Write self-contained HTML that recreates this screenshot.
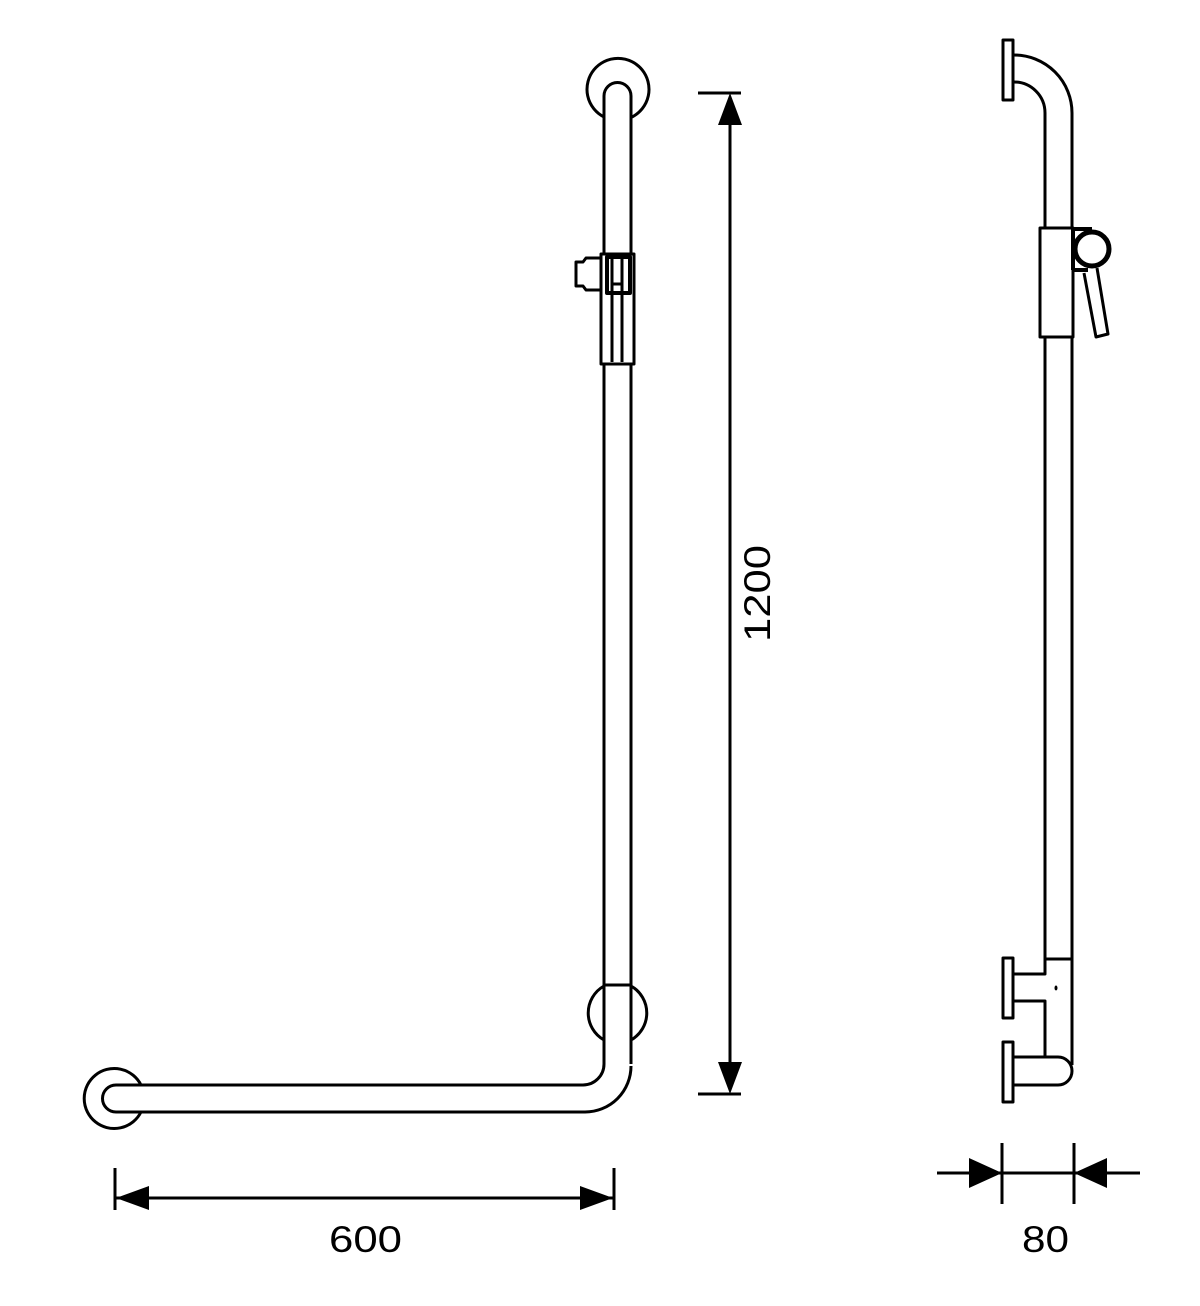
<!DOCTYPE html>
<html><head><meta charset="utf-8"><style>
html,body{margin:0;padding:0;background:#fff;}
svg{display:block;}
text{font-family:"Liberation Sans",sans-serif;fill:#000;}
</style></head><body>
<svg width="1200" height="1306" viewBox="0 0 1200 1306" xmlns="http://www.w3.org/2000/svg">
<g fill="none" stroke="#000" stroke-width="3" stroke-linejoin="round">
<!-- Left view: top rosette -->
<path d="M604 117 A31 31 0 1 1 632 117"/>
<path d="M604 254 L604 96 A13.5 13.5 0 0 1 631 96 L631 254"/>
<!-- slider -->
<rect x="601" y="254" width="33" height="110"/>
<line x1="612" y1="256" x2="612" y2="362"/>
<line x1="622" y1="256" x2="622" y2="362"/>
<rect x="607" y="257" width="23" height="36" stroke-width="4"/>
<line x1="612" y1="284" x2="622" y2="284"/>
<path d="M601 258 L586 258 L583 262 L576 262 L576 286 L583 286 L586 290 L601 290"/>
<!-- lower tube -->
<line x1="604" y1="364" x2="604" y2="1064"/>
<line x1="631" y1="364" x2="631" y2="1064"/>
<line x1="604" y1="985" x2="631" y2="985"/>
<path d="M604 986 A31 31 0 0 0 604 1040"/>
<path d="M631 986 A31 31 0 0 1 631 1040"/>
<path d="M604 1064 A21 21 0 0 1 583 1085 L116 1085 A13.5 13.5 0 0 0 116 1112 L585 1112 A46 46 0 0 0 631 1066"/>
<!-- left rosette -->
<path d="M141 1085 A30 30 0 1 0 141 1112"/>
<!-- vertical dimension -->
<line x1="730" y1="120" x2="730" y2="1066"/>
<line x1="698" y1="93" x2="741" y2="93"/>
<line x1="698" y1="1094" x2="741" y2="1094"/>
<!-- bottom dimension -->
<line x1="115" y1="1198" x2="614" y2="1198"/>
<line x1="115" y1="1168" x2="115" y2="1210"/>
<line x1="614" y1="1168" x2="614" y2="1210"/>
<!-- Right view -->
<rect x="1003" y="40" width="10" height="60"/>
<path d="M1013 55 L1014 55 A58 58 0 0 1 1072 113 L1072 228"/>
<path d="M1013 82 L1014 82 A31 31 0 0 1 1045 113 L1045 228"/>
<rect x="1040" y="228" width="33" height="109"/>
<path d="M1073 270 L1073 229 L1092 229 M1073 270 L1088 270" stroke-width="4"/>
<circle cx="1092" cy="249" r="17" stroke-width="5"/>
<path d="M1084 273 L1096 337 L1108 334 L1097 268"/>
<line x1="1045" y1="337" x2="1045" y2="959"/>
<line x1="1072" y1="337" x2="1072" y2="1065"/>
<line x1="1045" y1="959" x2="1072" y2="959"/>
<rect x="1003" y="958" width="10" height="60"/>
<path d="M1013 974 L1045 974 L1045 959"/>
<path d="M1013 1001 L1045 1001 L1045 1057"/>
<rect x="1003" y="1042" width="10" height="60"/>
<path d="M1013 1057 L1058 1057 A14 14 0 0 1 1058 1085 L1013 1085"/>
<line x1="937" y1="1173" x2="1140" y2="1173"/>
<line x1="1002" y1="1143" x2="1002" y2="1204"/>
<line x1="1074" y1="1143" x2="1074" y2="1204"/>
</g>
<g fill="#000" stroke="none">
<polygon points="730,93 718,125 742,125"/>
<polygon points="730,1094 718,1062 742,1062"/>
<polygon points="116,1198 149,1186 149,1210"/>
<polygon points="613,1198 580,1186 580,1210"/>
<polygon points="1002,1173 969,1158 969,1188"/>
<polygon points="1074,1173 1107,1158 1107,1188"/>
<ellipse cx="1056" cy="988" rx="1.5" ry="2.5"/>
</g>
<text x="329" y="1252" font-size="37" textLength="73" lengthAdjust="spacingAndGlyphs">600</text>
<text x="1022" y="1252" font-size="37" textLength="47" lengthAdjust="spacingAndGlyphs">80</text>
<text transform="translate(770,642) rotate(-90)" x="0" y="0" font-size="37" textLength="97" lengthAdjust="spacingAndGlyphs">1200</text>
</svg>
</body></html>
